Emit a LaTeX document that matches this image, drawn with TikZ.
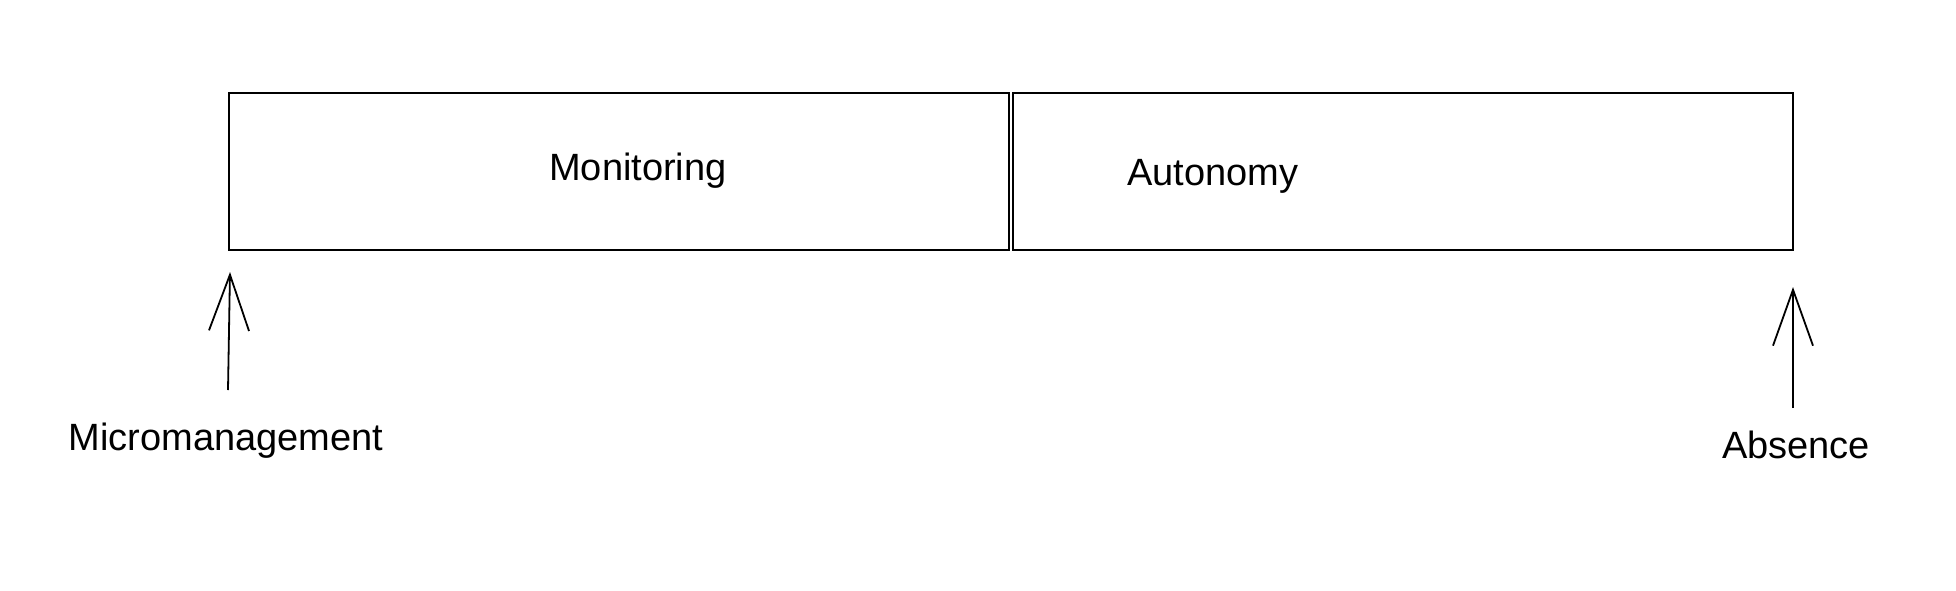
\documentclass[tikz,border=0pt]{standalone}
\usepackage{fontspec}
\setmainfont{Liberation Sans}
\usetikzlibrary{arrows.meta}
\begin{document}
\begin{tikzpicture}[x=0.5pt,y=-0.5pt,
  box/.style={draw,line width=1.2pt,minimum width=390pt,minimum height=78.5pt,inner sep=0pt},
  lbl/.style={font=\fontsize{19}{22}\selectfont,inner sep=0pt,anchor=base},
  arr/.style={-{Straight Barb[length=28pt,width=20pt,line width=0.9pt]},line width=0.9pt}]
\path[use as bounding box,fill=white] (0,0) rectangle (1956,590);
\node[box] (lbox) at (619,171.5) {};
\node[box] (rbox) at (1403,171.5) {};
\node[lbl] (mon) at (638,180) {Monitoring};
\node[lbl] (aut) at (1213,185) {Autonomy};
\node[lbl] (mm) at (226,450) {Micromanagement};
\node[lbl] (abs) at (1796,458) {Absence};
\coordinate (mmtail) at (228,390);
\coordinate (mmtip) at (230,272);
\coordinate (abtail) at (1793,408);
\coordinate (abtip) at (1793,287);
\draw[arr] (mmtail) -- (mmtip);
\draw[arr] (abtail) -- (abtip);
\end{tikzpicture}
\end{document}
